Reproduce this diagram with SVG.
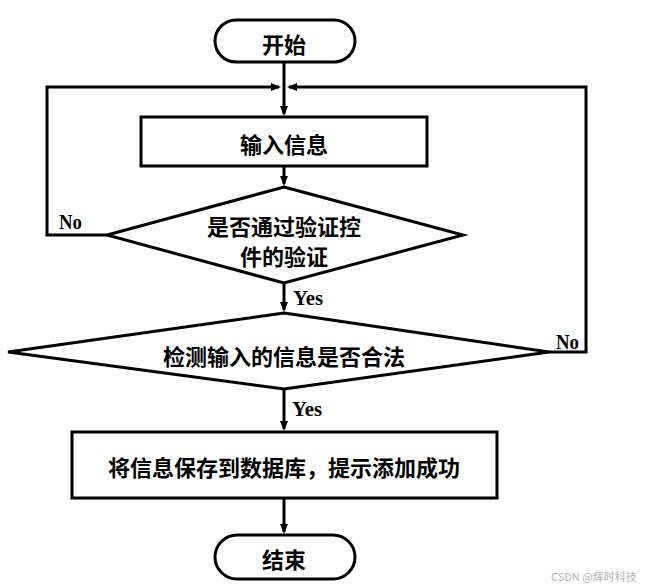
<svg xmlns="http://www.w3.org/2000/svg" width="645" height="587" viewBox="0 0 645 587">
  <style>
    .shape { fill: #ffffff; stroke: #000000; stroke-width: 3; }
    .conn { fill: none; stroke: #000000; stroke-width: 3; }
    .cn { font-family: "Noto Sans CJK SC", "Noto Sans", sans-serif; font-weight: 700; font-size: 22px; fill: #000000; text-anchor: middle; dominant-baseline: central; }
    .lbl { font-family: "Liberation Serif", "DejaVu Serif", serif; font-weight: 700; font-size: 20px; fill: #000000; }
    .wm { font-family: "Noto Sans CJK SC", "Noto Sans", sans-serif; font-size: 11px; fill: #b4b4b4; }
  </style>
  <defs>
    <marker id="arrow" viewBox="0 0 10 8" markerUnits="userSpaceOnUse" markerWidth="10" markerHeight="8" refX="8" refY="4" orient="auto">
      <path d="M0,0 L10,4 L0,8 z" fill="#000000"/>
    </marker>
  </defs>
  <rect width="645" height="587" fill="#ffffff"/>

  <g id="connectors">
    <line class="conn" x1="284" y1="62" x2="284" y2="114" marker-end="url(#arrow)"/>
    <polyline class="conn" points="107,235 47,235 47,87 279,87" marker-end="url(#arrow)"/>
    <polyline class="conn" points="549,352 586,352 586,87 289,87" marker-end="url(#arrow)"/>
    <line class="conn" x1="284" y1="166" x2="284" y2="184" marker-end="url(#arrow)"/>
    <line class="conn" x1="284" y1="283" x2="284" y2="310" marker-end="url(#arrow)"/>
    <line class="conn" x1="284" y1="389" x2="284" y2="429" marker-end="url(#arrow)"/>
    <line class="conn" x1="284" y1="498" x2="284" y2="532" marker-end="url(#arrow)"/>
    <text class="lbl" x="59" y="229" textLength="23" lengthAdjust="spacingAndGlyphs">No</text>
    <text class="lbl" x="293" y="305" textLength="30" lengthAdjust="spacingAndGlyphs">Yes</text>
    <text class="lbl" x="556" y="349" textLength="23" lengthAdjust="spacingAndGlyphs">No</text>
    <text class="lbl" x="292" y="416" textLength="30" lengthAdjust="spacingAndGlyphs">Yes</text>
  </g>

  <g id="start">
    <rect class="shape" x="215" y="20" width="140" height="42" rx="21" ry="21"/>
    <text class="cn" x="284" y="43">开始</text>
  </g>

  <g id="input">
    <rect class="shape" x="141" y="117" width="286" height="49"/>
    <text class="cn" x="284" y="143">输入信息</text>
  </g>

  <g id="validate">
    <polygon class="shape" points="284,187 463,235 284,283 107,235"/>
    <text class="cn" x="284" y="225">是否通过验证控</text>
    <text class="cn" x="284" y="255">件的验证</text>
  </g>

  <g id="check">
    <polygon class="shape" points="284,313 549,352 284,389 8,352"/>
    <text class="cn" x="284" y="355">检测输入的信息是否合法</text>
  </g>

  <g id="save">
    <rect class="shape" x="72" y="432" width="425" height="66"/>
    <text class="cn" x="284" y="466">将信息保存到数据库，提示添加成功</text>
  </g>

  <g id="end">
    <rect class="shape" x="215" y="535" width="140" height="44" rx="22" ry="22"/>
    <text class="cn" x="284" y="558">结束</text>
  </g>

  <text class="wm" x="551" y="581">CSDN @辉时科技</text>
</svg>
